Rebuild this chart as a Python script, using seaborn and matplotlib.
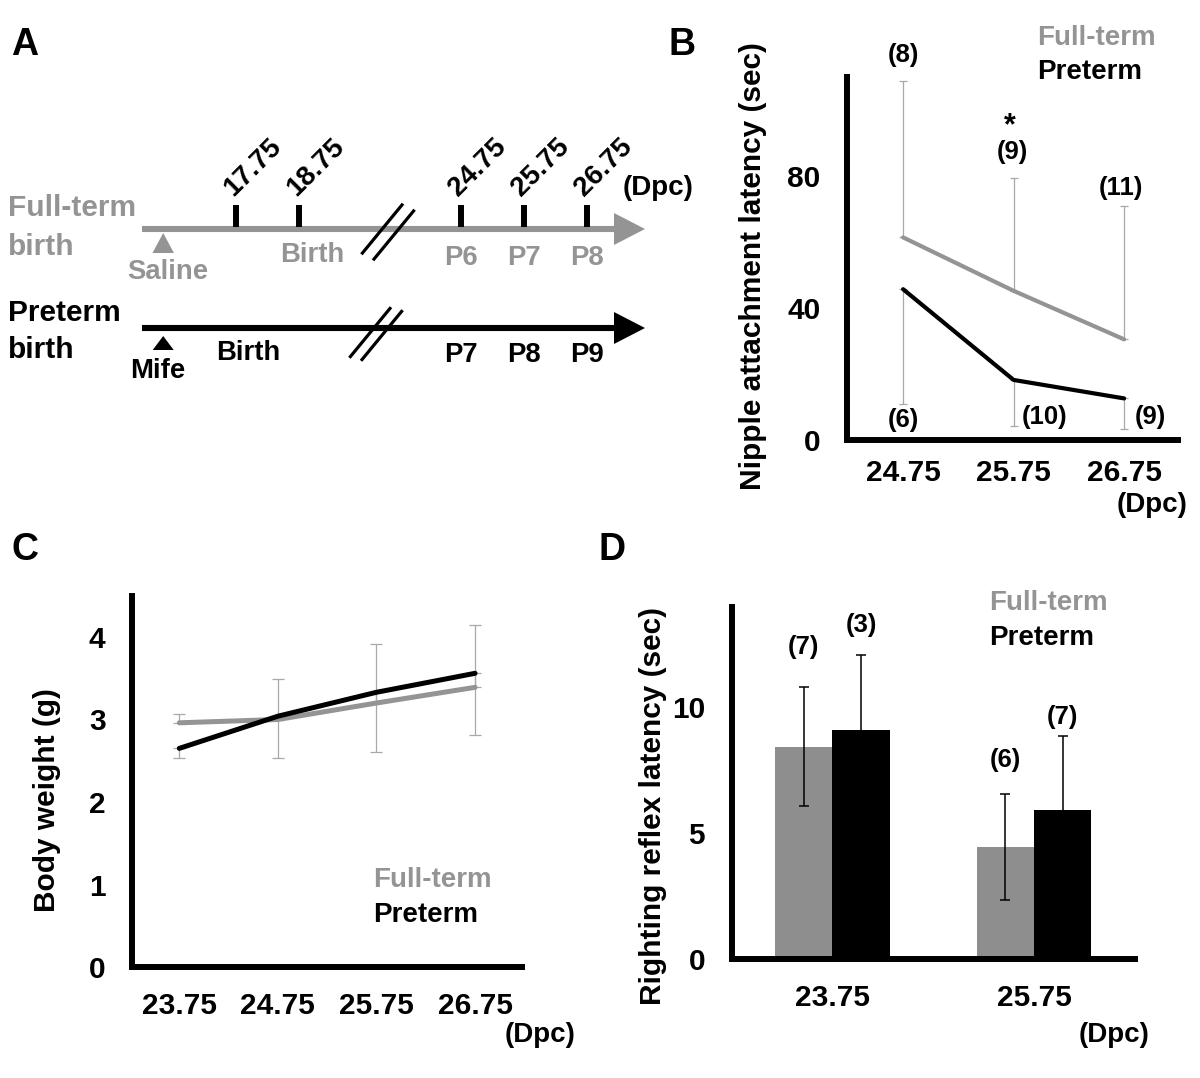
import matplotlib
matplotlib.use("Agg")
import matplotlib.pyplot as plt
from matplotlib.patches import Polygon
import seaborn as sns
import pandas as pd
import numpy as np

# ---- data ----
# B: nipple attachment latency (sec)
b_days = ["24.75", "25.75", "26.75"]
b_full_mean = [61.4, 45.2, 30.5]
b_full_sd = [47.5, 34.1, 40.5]
b_pre_mean = [45.7, 18.2, 12.6]
b_pre_sd = [34.8, 13.9, 9.4]
b_full_n = ["(8)", "(9)", "(11)"]
b_pre_n = ["(6)", "(10)", "(9)"]

# C: body weight (g)
c_days = ["23.75", "24.75", "25.75", "26.75"]
c_full_mean = [2.96, 3.00, 3.20, 3.39]
c_full_sd = [0.11, 0.49, 0.72, 0.75]
c_pre_mean = [2.65, 3.04, 3.33, 3.56]
c_pre_sd = [0.12, 0.51, 0.72, 0.75]

# D: righting reflex latency (sec)
d_days = ["23.75", "25.75"]
d_full_mean = [8.44, 4.45]
d_full_sd = [2.36, 2.12]
d_pre_mean = [9.09, 5.92]
d_pre_sd = [2.99, 2.94]
d_full_n = ["(7)", "(6)"]
d_pre_n = ["(3)", "(7)"]

# A: timeline (Dpc)
tl_days = [17.75, 18.75, 24.75, 25.75, 26.75]
inject_day = 16.6
ft_birth_day = 18.95
pt_birth_day = 17.95
ft_post = ["P6", "P7", "P8"]
pt_post = ["P7", "P8", "P9"]

GREY = "#949494"
BAR_GREY = "#8e8e8e"
ERR_GREY = "#a8a8a8"
W, H = 1200, 1078

sns.set_style("white")
plt.rcParams["font.family"] = ["Liberation Sans", "DejaVu Sans"]
plt.rcParams["font.weight"] = "bold"
for k in ["text.color", "axes.labelcolor", "xtick.color", "ytick.color"]:
    plt.rcParams[k] = "black"

fig = plt.figure(figsize=(W / 100, H / 100), dpi=100)


def box(l, t, r, b):
    return [l / W, 1 - b / H, (r - l) / W, (b - t) / H]


def ftext(x, y, s, **kw):
    kw.setdefault("fontweight", "bold")
    fig.text(x / W, 1 - y / H, s, **kw)


def style(ax, xpad):
    for s in ["top", "right"]:
        ax.spines[s].set_visible(False)
    for s in ["left", "bottom"]:
        ax.spines[s].set_linewidth(4.3)
        ax.spines[s].set_color("black")
    ax.tick_params(axis="y", length=5, width=4.3, pad=14, labelsize=21.5,
                   direction="out", color="black", labelcolor="black")
    ax.tick_params(axis="x", length=0, pad=xpad, labelsize=21.5,
                   labelcolor="black")
    ax.set_xlabel("")
    ax.set_ylabel("")
    for lab in ax.get_xticklabels() + ax.get_yticklabels():
        lab.set_fontweight("bold")


# ---- panel A ----
axA = fig.add_axes(box(0, 100, 700, 420))
axA.set_xlim(0, 700)
axA.set_ylim(420, 100)
axA.axis("off")


def tl_px(d):
    return 236 + (d - 17.75 - (3.45 if d > 21 else 0)) * 63.3


FT_Y, PT_Y = 229, 328
x0, x_base, x_tip = 141.7, 614, 645
for yy, col in [(FT_Y, GREY), (PT_Y, "black")]:
    axA.plot([x0, x_base], [yy, yy], color=col, lw=4.4, solid_capstyle="butt")
    axA.add_patch(Polygon([(x_base, yy - 16), (x_base, yy + 16), (x_tip, yy)],
                          closed=True, color=col, lw=0))

for d in tl_days:
    axA.plot([tl_px(d)] * 2, [205, FT_Y - 2], color="black", lw=4.3,
             solid_capstyle="butt")
    axA.text(tl_px(d) - 3, 197, f"{d:.2f}", rotation=45, rotation_mode="anchor",
             ha="left", va="baseline", fontsize=20, fontweight="bold")
axA.text(693, 188, "(Dpc)", ha="right", va="center", fontsize=20, fontweight="bold")


def break_mark(cx, cy, dy_off):
    for s in (-1, 1):
        ox, oy = s * 5.8, s * dy_off
        axA.plot([cx + ox - 20.8, cx + ox + 20.8], [cy + oy + 25.3, cy + oy - 25.3],
                 color="black", lw=2.3, solid_capstyle="butt")


break_mark(388, FT_Y + 3, 3)
break_mark(376, PT_Y + 6, 1.5)

ix = tl_px(inject_day)
axA.add_patch(Polygon([(ix - 10.7, 253), (ix + 10.7, 253), (ix, 233)],
                      closed=True, color=GREY, lw=0))
axA.add_patch(Polygon([(ix - 10.5, 350), (ix + 10.5, 350), (ix, 336)],
                      closed=True, color="black", lw=0))

lab = dict(ha="left", va="center", fontsize=21.5, fontweight="bold")
axA.text(8, 208, "Full-term", color=GREY, **lab)
axA.text(8, 247, "birth", color=GREY, **lab)
axA.text(8, 313, "Preterm", color="black", **lab)
axA.text(8, 350, "birth", color="black", **lab)

small = dict(ha="center", va="center", fontsize=19.8, fontweight="bold")
axA.text(ix + 5, 272, "Saline", color=GREY, **small)
axA.text(tl_px(ft_birth_day), 255, "Birth", color=GREY, **small)
axA.text(ix - 5, 371, "Mife", color="black", **small)
axA.text(tl_px(pt_birth_day), 353, "Birth", color="black", **small)
for d, p in zip(tl_days[2:], ft_post):
    axA.text(tl_px(d), 258, p, color=GREY, **small)
for d, p in zip(tl_days[2:], pt_post):
    axA.text(tl_px(d), 355, p, color="black", **small)

pal = {"Full-term": GREY, "Preterm": "black"}
cnt = dict(ha="center", va="center", fontsize=18.5, fontweight="bold")
leg = dict(ha="left", va="center", fontsize=20, fontweight="bold")

# ---- panel B ----
axB = fig.add_axes(box(846.7, 77, 1178.3, 440))
posB = np.arange(len(b_days))
dfB = pd.DataFrame({"pos": np.tile(posB, 2),
                    "value": b_full_mean + b_pre_mean,
                    "group": ["Full-term"] * 3 + ["Preterm"] * 3})
sns.lineplot(data=dfB, x="pos", y="value", hue="group", palette=pal,
             linewidth=3.0, legend=False, ax=axB, zorder=3)
axB.errorbar(posB, b_full_mean, yerr=[np.zeros(3), b_full_sd], fmt="none",
             ecolor=ERR_GREY, elinewidth=0.9, capsize=3, capthick=0.9, zorder=2)
axB.errorbar(posB, b_pre_mean, yerr=[b_pre_sd, np.zeros(3)], fmt="none",
             ecolor=ERR_GREY, elinewidth=0.9, capsize=3, capthick=0.9, zorder=2)
axB.set_xlim(-0.51, 2.49)
axB.set_ylim(0, 110)
axB.set_xticks(posB)
axB.set_xticklabels(b_days)
axB.set_yticks([0, 40, 80])
style(axB, 13.5)
for (x, y), s in zip([(0, 116.7), (0.99, 87.4), (1.97, 76.3)], b_full_n):
    axB.text(x, y, s, **cnt)
for (x, y), s in zip([(0.0, 6.1), (1.28, 7.1), (2.24, 7.1)], b_pre_n):
    axB.text(x, y, s, **cnt)
axB.text(0.97, 95, "*", ha="center", va="center", fontsize=22, fontweight="bold")
axB.text(1.21, 121.8, "Full-term", color=GREY, **leg)
axB.text(1.21, 111.5, "Preterm", color="black", **leg)

# ---- panel C ----
axC = fig.add_axes(box(132, 595.75, 522.4, 967))
posC = np.arange(len(c_days))
dfC = pd.DataFrame({"pos": np.tile(posC, 2),
                    "value": c_full_mean + c_pre_mean,
                    "group": ["Full-term"] * 4 + ["Preterm"] * 4})
sns.lineplot(data=dfC, x="pos", y="value", hue="group", palette=pal,
             linewidth=3.6, legend=False, ax=axC, zorder=3)
axC.errorbar(posC, c_full_mean, yerr=[np.zeros(4), c_full_sd], fmt="none",
             ecolor=ERR_GREY, elinewidth=0.9, capsize=4.3, capthick=0.9, zorder=2)
axC.errorbar(posC, c_pre_mean, yerr=[c_pre_sd, np.zeros(4)], fmt="none",
             ecolor=ERR_GREY, elinewidth=0.9, capsize=4.3, capthick=0.9, zorder=2)
axC.set_xlim(-0.48, 3.48)
axC.set_ylim(0, 4.5)
axC.set_xticks(posC)
axC.set_xticklabels(c_days)
axC.set_yticks([0, 1, 2, 3, 4])
style(axC, 18)
axC.text(1.966, 1.055, "Full-term", color=GREY, **leg)
axC.text(1.966, 0.63, "Preterm", color="black", **leg)

# ---- panel D ----
axD = fig.add_axes(box(731.5, 607, 1135, 958.5))
dfD = pd.DataFrame({"day": d_days * 2,
                    "value": d_full_mean + d_pre_mean,
                    "group": ["Full-term"] * 2 + ["Preterm"] * 2})
sns.barplot(data=dfD, x="day", y="value", hue="group",
            palette={"Full-term": BAR_GREY, "Preterm": "black"},
            width=0.568, errorbar=None, saturation=1, linewidth=0,
            legend=False, ax=axD)
for cont, means, sds, ns, ys in zip(axD.containers,
                                    [d_full_mean, d_pre_mean],
                                    [d_full_sd, d_pre_sd],
                                    [d_full_n, d_pre_n],
                                    [[12.42, 7.91], [13.28, 9.63]]):
    cx = [b.get_x() + b.get_width() / 2 for b in cont]
    axD.errorbar(cx, means, yerr=sds, fmt="none", ecolor="black",
                 elinewidth=1.1, capsize=3.6, capthick=1.1, zorder=3)
    for x, y, s in zip(cx, ys, ns):
        axD.text(x, y, s, **cnt)
axD.set_xlim(-0.5, 1.5)
axD.set_ylim(0, 14)
axD.set_yticks([0, 5, 10])
style(axD, 18)
axD.text(0.777, 14.16, "Full-term", color=GREY, **leg)
axD.text(0.777, 12.77, "Preterm", color="black", **leg)

# ---- labels ----
ylab = dict(rotation=90, ha="center", va="center", fontsize=21.5)
ftext(753, 266, "Nipple attachment latency (sec)", **ylab)
ftext(47, 800, "Body weight (g)", **ylab)
ftext(653, 806, "Righting reflex latency (sec)", **ylab)

dpc = dict(ha="right", va="center", fontsize=20)
ftext(1187, 505, "(Dpc)", **dpc)
ftext(575, 1035, "(Dpc)", **dpc)
ftext(1150, 1035, "(Dpc)", **dpc)

pl = dict(ha="center", va="center", fontsize=27)
ftext(25, 45, "A", **pl)
ftext(682, 45, "B", **pl)
ftext(25, 550, "C", **pl)
ftext(612, 550, "D", **pl)

fig.savefig("out.png", dpi=100, facecolor="white")
